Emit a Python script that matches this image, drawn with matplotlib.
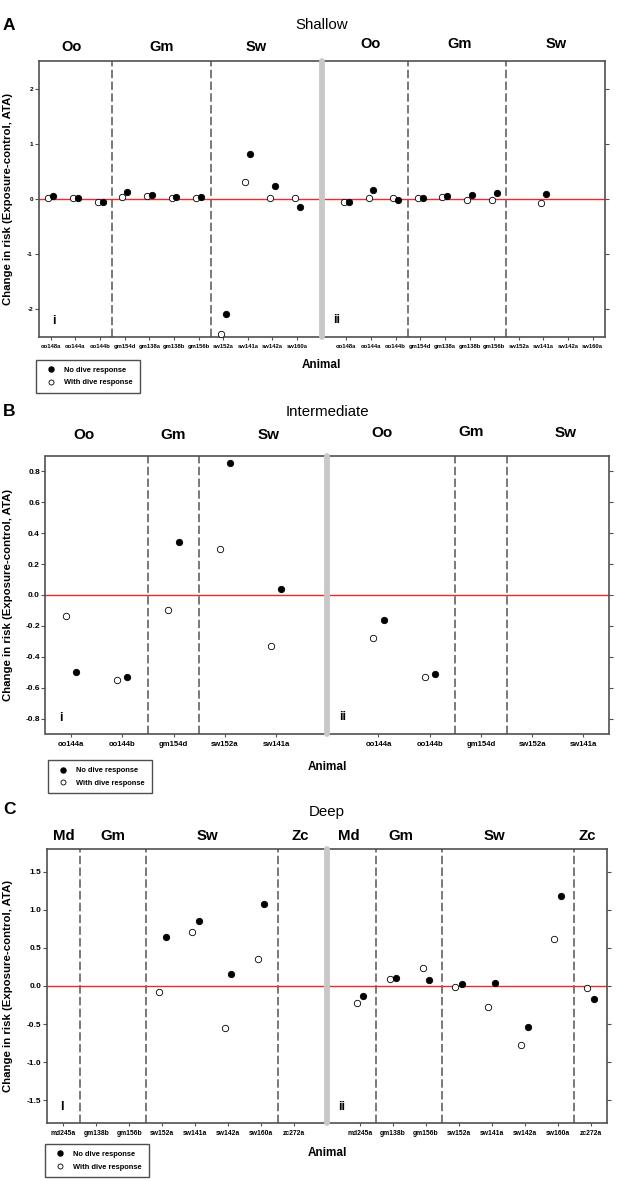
import numpy as np
import matplotlib
matplotlib.use('Agg')
import matplotlib.pyplot as plt
from matplotlib.lines import Line2D

plt.rcParams['font.family'] = ['Liberation Sans', 'DejaVu Sans']
plt.rcParams['axes.unicode_minus'] = False

nan = np.nan

# ---------------- data ----------------
shallow_animals = ['oo148a', 'oo144a', 'oo144b', 'gm154d', 'gm138a', 'gm138b', 'gm156b',
                   'sw152a', 'sw141a', 'sw142a', 'sw160a']
shallow_groups = ['Oo', 'Gm', 'Sw']
shallow_group_sizes = [3, 4, 4]
shallow_i_no = [0.05, 0.02, -0.05, 0.13, 0.08, 0.04, 0.04, -2.08, 0.82, 0.24, -0.15]
shallow_i_with = [0.02, 0.02, -0.05, 0.04, 0.05, 0.01, 0.01, -2.45, 0.30, 0.01, 0.01]
shallow_ii_no = [-0.05, 0.16, -0.01, 0.02, 0.05, 0.08, 0.11, nan, 0.09, nan, nan]
shallow_ii_with = [-0.06, 0.02, 0.01, 0.01, 0.03, -0.02, -0.02, nan, -0.08, nan, nan]

inter_animals = ['oo144a', 'oo144b', 'gm154d', 'sw152a', 'sw141a']
inter_groups = ['Oo', 'Gm', 'Sw']
inter_group_sizes = [2, 1, 2]
inter_i_no = [-0.50, -0.528, 0.34, 0.854, 0.041]
inter_i_with = [-0.135, -0.553, -0.097, 0.298, -0.33]
inter_ii_no = [-0.163, -0.51, nan, nan, nan]
inter_ii_with = [-0.28, -0.53, nan, nan, nan]

deep_animals = ['md245a', 'gm138b', 'gm156b', 'sw152a', 'sw141a', 'sw142a', 'sw160a', 'zc272a']
deep_groups = ['Md', 'Gm', 'Sw', 'Zc']
deep_group_sizes = [1, 2, 4, 1]
deep_i_no = [nan, nan, nan, 0.64, 0.854, 0.158, 1.078, nan]
deep_i_with = [nan, nan, nan, -0.083, 0.714, -0.552, 0.359, nan]
deep_ii_no = [-0.127, 0.11, 0.074, 0.026, 0.044, -0.539, 1.178, -0.17]
deep_ii_with = [-0.223, 0.088, 0.232, -0.013, -0.276, -0.78, 0.618, -0.02]

legend_labels = ['No dive response', 'With dive response']
ylabel = 'Change in risk (Exposure-control, ATA)'
xlabel = 'Animal'

# ---------------- layout ----------------
W, H = 620, 1181
fig = plt.figure(figsize=(W / 100, H / 100), dpi=100)


def fx(px):
    return px / W


def fy(py):
    return 1 - py / H


panels = [
    dict(letter='A', title='Shallow', animals=shallow_animals, groups=shallow_groups,
         sizes=shallow_group_sizes,
         series=(shallow_i_no, shallow_i_with, shallow_ii_no, shallow_ii_with),
         rect=(38.5, 61, 605, 337), ylim=(-2.5, 2.5), yticks=[-2, -1, 0, 1, 2], yfmt='{:.0f}',
         ytfs=4.6, xtfs=4.2, gfs=10.5, gdy=14, tdy=36, letter_y=26, xl_dy=28,
         nudge=[-0.17, 0.0, -0.16, 0.0, 0.1, 0.0], gyl=[0, 0, 0, -3, -3, -3],
         iy='i', leg=(-0.005, -0.083)),
    dict(letter='B', title='Intermediate', animals=inter_animals, groups=inter_groups,
         sizes=inter_group_sizes,
         series=(inter_i_no, inter_i_with, inter_ii_no, inter_ii_with),
         rect=(45.5, 456, 609, 734), ylim=(-0.9, 0.9),
         yticks=[-0.8, -0.6, -0.4, -0.2, 0.0, 0.2, 0.4, 0.6, 0.8], yfmt='{:.1f}',
         ytfs=6, xtfs=5.6, gfs=11, gdy=21, tdy=44, letter_y=411, xl_dy=33,
         nudge=[-0.25, 0.0, 0.35, -0.44, -0.2, 0.15], gyl=[0, 0, 0, -2, -3, -2],
         iy='i', leg=(0.004, -0.094)),
    dict(letter='C', title='Deep', animals=deep_animals, groups=deep_groups,
         sizes=deep_group_sizes,
         series=(deep_i_no, deep_i_with, deep_ii_no, deep_ii_with),
         rect=(47, 849, 607, 1123), ylim=(-1.8, 1.8),
         yticks=[-1.5, -1.0, -0.5, 0.0, 0.5, 1.0, 1.5], yfmt='{:.1f}',
         ytfs=6, xtfs=4.9, gfs=10.8, gdy=13, tdy=37, letter_y=809, xl_dy=30,
         nudge=[0.0, 0.0, -0.13, 0.19, -0.33, -0.27, -0.43, -0.1], gyl=[0, 0, 0, 0, 0, 0, 0, 0],
         iy='I', leg=(-0.004, -0.077)),
]

spine_col = '#505050'
off = 0.1
ms = 4.6

for p in panels:
    l, t, r, b = p['rect']
    ax = fig.add_axes([fx(l), fy(b), (r - l) / W, (b - t) / H])
    hpx = b - t
    animals = p['animals']
    n = len(animals)
    xi = np.arange(n)
    xii = np.arange(n) + n + 1
    ax.set_xlim(-0.5, 2 * n + 0.5)
    ax.set_ylim(*p['ylim'])

    ax.axhline(0, color='#ee2a2a', lw=1.0, zorder=2)
    bounds = np.cumsum(p['sizes'])[:-1] - 0.5
    for xb in np.concatenate([bounds, bounds + n + 1]):
        ax.axvline(xb, color='#555555', lw=1.1, ls=(0, (5.5, 2.2)), zorder=1)
    ax.axvline(n, color='#c8c8c8', lw=4.2, solid_capstyle='round', clip_on=False, zorder=6)

    i_no, i_with, ii_no, ii_with = p['series']
    for xs, no, wi in [(xi, i_no, i_with), (xii, ii_no, ii_with)]:
        ax.plot(xs - off, wi, 'o', ls='none', mfc='white', mec='black', mew=0.6, ms=ms,
                clip_on=False, zorder=4)
        ax.plot(xs + off, no, 'o', ls='none', mfc='black', mec='black', mew=0.6, ms=ms,
                clip_on=False, zorder=4)

    ax.set_xticks(np.concatenate([xi, xii]))
    ax.set_xticklabels(animals + animals, fontsize=p['xtfs'], fontweight='bold')
    ax.tick_params(axis='x', direction='out', length=2.3, width=0.8, pad=2.5, color=spine_col)
    ax.set_yticks(p['yticks'])
    ax.set_yticklabels([p['yfmt'].format(v) for v in p['yticks']], fontsize=p['ytfs'],
                       fontweight='bold')
    ax.tick_params(axis='y', direction='out', left=True, right=True, labelright=False,
                   length=3, width=0.8, pad=1, color=spine_col)
    for s in ax.spines.values():
        s.set_color(spine_col)
        s.set_linewidth(1.2)

    # group labels
    k = 0
    for half, start in enumerate([0, n + 1]):
        pos = start
        for g, sz in zip(p['groups'], p['sizes']):
            cx = pos + (sz - 1) / 2 + p['nudge'][k]
            ax.text(cx, 1 + (p['gdy'] - p['gyl'][k]) / hpx, g, transform=ax.get_xaxis_transform(),
                    ha='center', va='center', fontsize=p['gfs'], fontweight='bold')
            pos += sz
            k += 1

    # i / ii labels
    ax.text(0.027, 0.057, p['iy'], transform=ax.transAxes, ha='center', va='center',
            fontsize=9, fontweight='bold')
    ax.text(0.527, 0.06, 'ii', transform=ax.transAxes, ha='center', va='center',
            fontsize=9, fontweight='bold')

    # title, letter, axis labels
    cxp = (l + r) / 2
    fig.text(fx(cxp), fy(t - p['tdy']), p['title'], ha='center', va='center', fontsize=10.8)
    fig.text(fx(3), fy(p['letter_y']), p['letter'], ha='left', va='center', fontsize=12.5,
             fontweight='bold')
    fig.text(fx(8), fy((t + b) / 2), ylabel, rotation=90, ha='center', va='center',
             fontsize=8.2, fontweight='bold')
    fig.text(fx(cxp), fy(b + p['xl_dy']), xlabel, ha='center', va='center', fontsize=8.5,
             fontweight='bold')

    handles = [Line2D([], [], marker='o', ls='none', mfc='black', mec='black', ms=3.6),
               Line2D([], [], marker='o', ls='none', mfc='white', mec='black', mew=0.6, ms=3.6)]
    leg = ax.legend(handles, legend_labels, loc='upper left', bbox_to_anchor=p['leg'],
                    borderaxespad=0, frameon=True, fancybox=False, prop={'size': 5.4, 'weight': 'bold'},
                    handlelength=2.2, handletextpad=0.7, borderpad=0.9, labelspacing=0.7)
    leg.get_frame().set_edgecolor('#222222')
    leg.get_frame().set_linewidth(1.0)

fig.savefig('out.png', dpi=100)
